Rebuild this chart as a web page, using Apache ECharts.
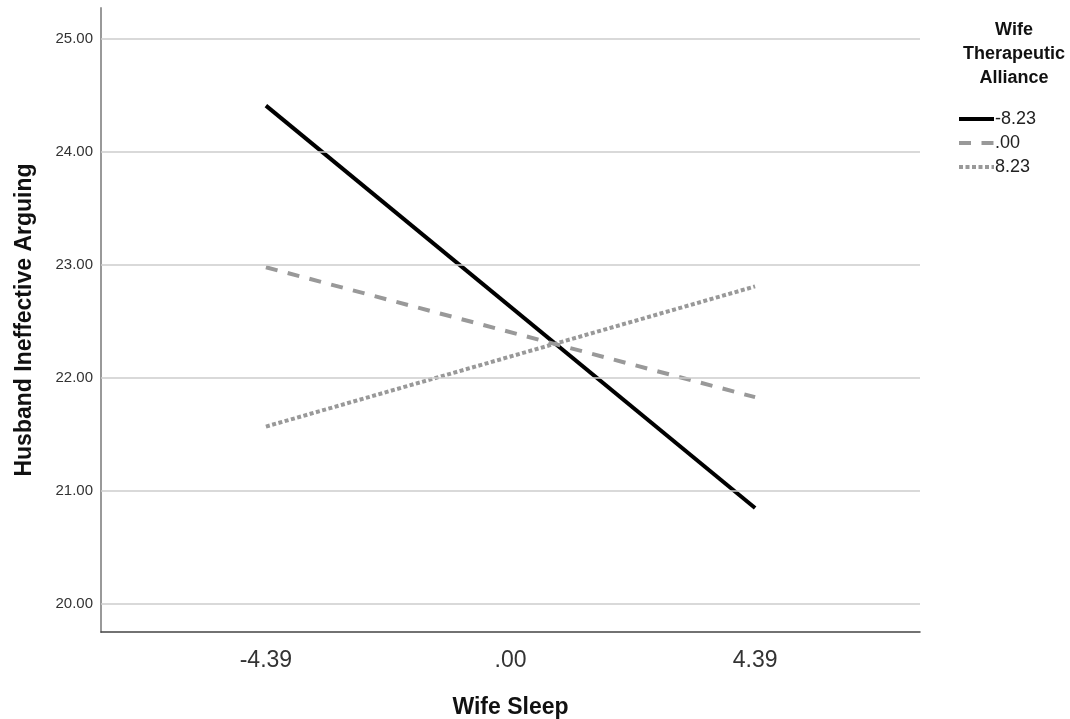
<!DOCTYPE html>
<html>
<head>
<meta charset="utf-8">
<script src="https://cdn.jsdelivr.net/npm/echarts@6/dist/echarts.min.js"></script>
<style>html,body{margin:0;padding:0;background:#fff}#c{width:1070px;height:719px}</style>
</head>
<body>
<div id="c"></div>
<script>
var xValues = [-4.39, 0, 4.39];
var xTickLabels = ['-4.39', '.00', '4.39'];
var seriesNames = ['-8.23', '.00', '8.23'];
var valsLow = [24.41, 20.85];
var valsMid = [22.98, 21.83];
var valsHigh = [21.57, 22.81];
var yTicks = [20, 21, 22, 23, 24, 25];

var chart = echarts.init(document.getElementById('c'));
var font = 'Arial, "Liberation Sans", sans-serif';
function pts(v) { return [[xValues[0], v[0]], [xValues[2], v[1]]]; }
chart.setOption({
  animation: false,
  textStyle: { fontFamily: font },
  grid: { left: 101, top: 8, right: 150, bottom: 87, outerBoundsMode: 'none', containLabel: false },
  title: {
    text: 'Wife\nTherapeutic\nAlliance',
    left: 1009, top: 13, textAlign: 'center',
    textStyle: { fontFamily: font, fontSize: 18, fontWeight: 'bold', color: '#111', lineHeight: 24 }
  },
  legend: {
    left: 952, top: 105, orient: 'vertical', itemGap: 6,
    itemWidth: 35, itemHeight: 14,
    itemStyle: { opacity: 0, color: 'transparent', borderWidth: 0 },
    lineStyle: { width: 4 },
    textStyle: { fontFamily: font, fontSize: 18, color: '#222', padding: [0, 0, 0, -4] },
    data: seriesNames
  },
  xAxis: {
    type: 'value', min: -7.35, max: 7.35,
    name: 'Wife Sleep', nameLocation: 'middle', nameGap: 64,
    nameTextStyle: { fontFamily: font, fontSize: 23, fontWeight: 'bold', color: '#111' },
    axisLine: { show: true, onZero: false, lineStyle: { color: '#444', width: 1.5 } },
    axisTick: { show: false },
    splitLine: { show: false },
    axisLabel: {
      customValues: xValues, margin: 17,
      fontFamily: font, fontSize: 23, color: '#333',
      formatter: function (v) { var i = xValues.indexOf(v); return i >= 0 ? xTickLabels[i] : ''; }
    }
  },
  yAxis: {
    type: 'value', min: 19.752, max: 25.274,
    name: 'Husband Ineffective Arguing', nameLocation: 'middle', nameGap: 65,
    nameTextStyle: { fontFamily: font, fontSize: 23, fontWeight: 'bold', color: '#111' },
    axisLine: { show: true, onZero: false, lineStyle: { color: '#999', width: 2 } },
    axisTick: { show: false },
    splitLine: { show: false },
    axisLabel: {
      customValues: yTicks, margin: 8,
      fontFamily: font, fontSize: 15, color: '#333',
      formatter: function (v) { return v.toFixed(2); }
    }
  },
  series: [
    {
      name: seriesNames[0], type: 'line', data: pts(valsLow), symbol: 'none',
      lineStyle: { color: '#000', width: 4, type: 'solid' }, itemStyle: { color: '#000' },
      markLine: {
        silent: true, symbol: 'none', label: { show: false },
        lineStyle: { color: '#ccc', width: 1.5, type: 'solid' },
        data: yTicks.map(function (t) { return { yAxis: t }; })
      },
      z: 3
    },
    {
      name: seriesNames[1], type: 'line', data: pts(valsMid), symbol: 'none',
      lineStyle: { color: '#999', width: 4, type: [12, 10.5] }, itemStyle: { color: '#999' }, z: 3
    },
    {
      name: seriesNames[2], type: 'line', data: pts(valsHigh), symbol: 'none',
      lineStyle: { color: '#999', width: 4, type: [4, 2.5] }, itemStyle: { color: '#999' }, z: 3
    }
  ]
});
</script>
</body>
</html>
